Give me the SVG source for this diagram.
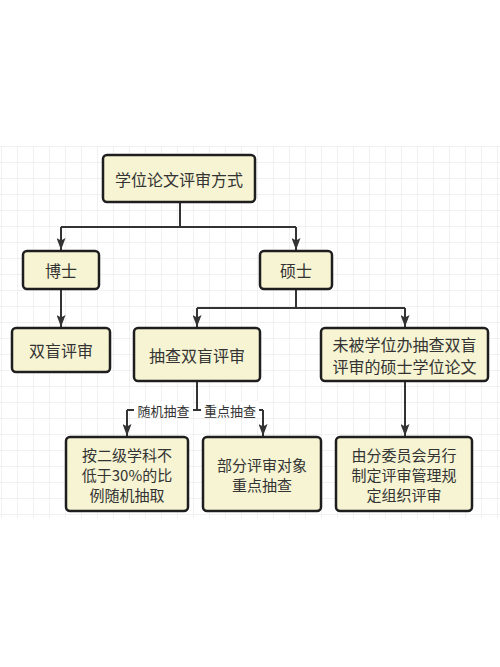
<svg xmlns="http://www.w3.org/2000/svg" width="500" height="667" viewBox="0 0 500 667">
<defs>
<pattern id="grid" x="1" y="146" width="16" height="16" patternUnits="userSpaceOnUse">
<path d="M0 0H16M0 0V16" fill="none" stroke="#e3e3e3" stroke-width="1"/>
</pattern>
<marker id="arr" viewBox="0 0 12 9" refX="12" refY="4.5" markerWidth="6" markerHeight="4.5" orient="auto" markerUnits="strokeWidth">
<path d="M0 0L12 4.5L0 9L2.5 4.5z" fill="#333"/>
</marker>
<style>
.box{fill:#f6f4d2;stroke:#1e1e1e;stroke-width:2.5}
.t{font-family:"Noto Sans CJK SC","Noto Sans",sans-serif;font-size:16px;fill:#333;text-anchor:middle;dominant-baseline:central}
.m{font-size:15px}
.lbl{font-family:"Noto Sans CJK SC","Noto Sans",sans-serif;font-size:13px;fill:#333;text-anchor:middle;dominant-baseline:central}
.c{fill:none;stroke:#333;stroke-width:2}
</style>
</defs>
<rect width="500" height="667" fill="#fff"/>
<rect x="0" y="146" width="500" height="372" fill="url(#grid)"/>
<g id="connectors">
<path class="c" d="M180 202V227"/>
<path class="c" d="M61 227H296"/>
<path class="c" d="M61 227V250" marker-end="url(#arr)"/>
<path class="c" d="M296 227V250" marker-end="url(#arr)"/>
<path class="c" d="M61 289V327" marker-end="url(#arr)"/>
<path class="c" d="M296 289V308"/>
<path class="c" d="M197 308H405"/>
<path class="c" d="M197 308V327" marker-end="url(#arr)"/>
<path class="c" d="M405 308V327" marker-end="url(#arr)"/>
<path class="c" d="M197 381V410"/>
<path class="c" d="M127 410H263"/>
<path class="c" d="M127 410V436" marker-end="url(#arr)"/>
<path class="c" d="M263 410V436" marker-end="url(#arr)"/>
<path class="c" d="M405 381V436" marker-end="url(#arr)"/>
<rect x="134" y="402" width="59" height="16" fill="#fff"/>
<rect x="201" y="402" width="58" height="16" fill="#fff"/>
<text class="lbl" x="163.5" y="410">随机抽查</text>
<text class="lbl" x="230" y="410">重点抽查</text>
</g>
<g id="root">
<rect class="box" x="103" y="155" width="152" height="47" rx="4"/>
<text class="t" x="179" y="178.5">学位论文评审方式</text>
</g>
<g id="boshi">
<rect class="box" x="23" y="251" width="76" height="38" rx="4"/>
<text class="t" x="61" y="270">博士</text>
</g>
<g id="shuoshi">
<rect class="box" x="260" y="251" width="72" height="38" rx="4"/>
<text class="t" x="296" y="270">硕士</text>
</g>
<g id="shuangmang">
<rect class="box" x="12" y="328" width="98" height="44" rx="4"/>
<text class="t" x="61" y="350">双盲评审</text>
</g>
<g id="choucha">
<rect class="box" x="134" y="328" width="126" height="53" rx="4"/>
<text class="t" x="197" y="354.5">抽查双盲评审</text>
</g>
<g id="weibei">
<rect class="box" x="321" y="328" width="167" height="53" rx="4"/>
<text class="t"><tspan x="404.5" y="343.5">未被学位办抽查双盲</tspan><tspan x="404.5" y="365.5">评审的硕士学位论文</tspan></text>
</g>
<g id="suiji">
<rect class="box" x="66" y="437" width="122" height="74" rx="4"/>
<text class="t m"><tspan x="127" y="454">按二级学科不</tspan><tspan x="127" y="474">低于30%的比</tspan><tspan x="127" y="494">例随机抽取</tspan></text>
</g>
<g id="zhongdian">
<rect class="box" x="203" y="437" width="118" height="74" rx="4"/>
<text class="t m"><tspan x="262" y="464">部分评审对象</tspan><tspan x="262" y="484">重点抽查</tspan></text>
</g>
<g id="fenwei">
<rect class="box" x="336" y="437" width="136" height="74" rx="4"/>
<text class="t m"><tspan x="404" y="454">由分委员会另行</tspan><tspan x="404" y="474">制定评审管理规</tspan><tspan x="404" y="494">定组织评审</tspan></text>
</g>
</svg>
